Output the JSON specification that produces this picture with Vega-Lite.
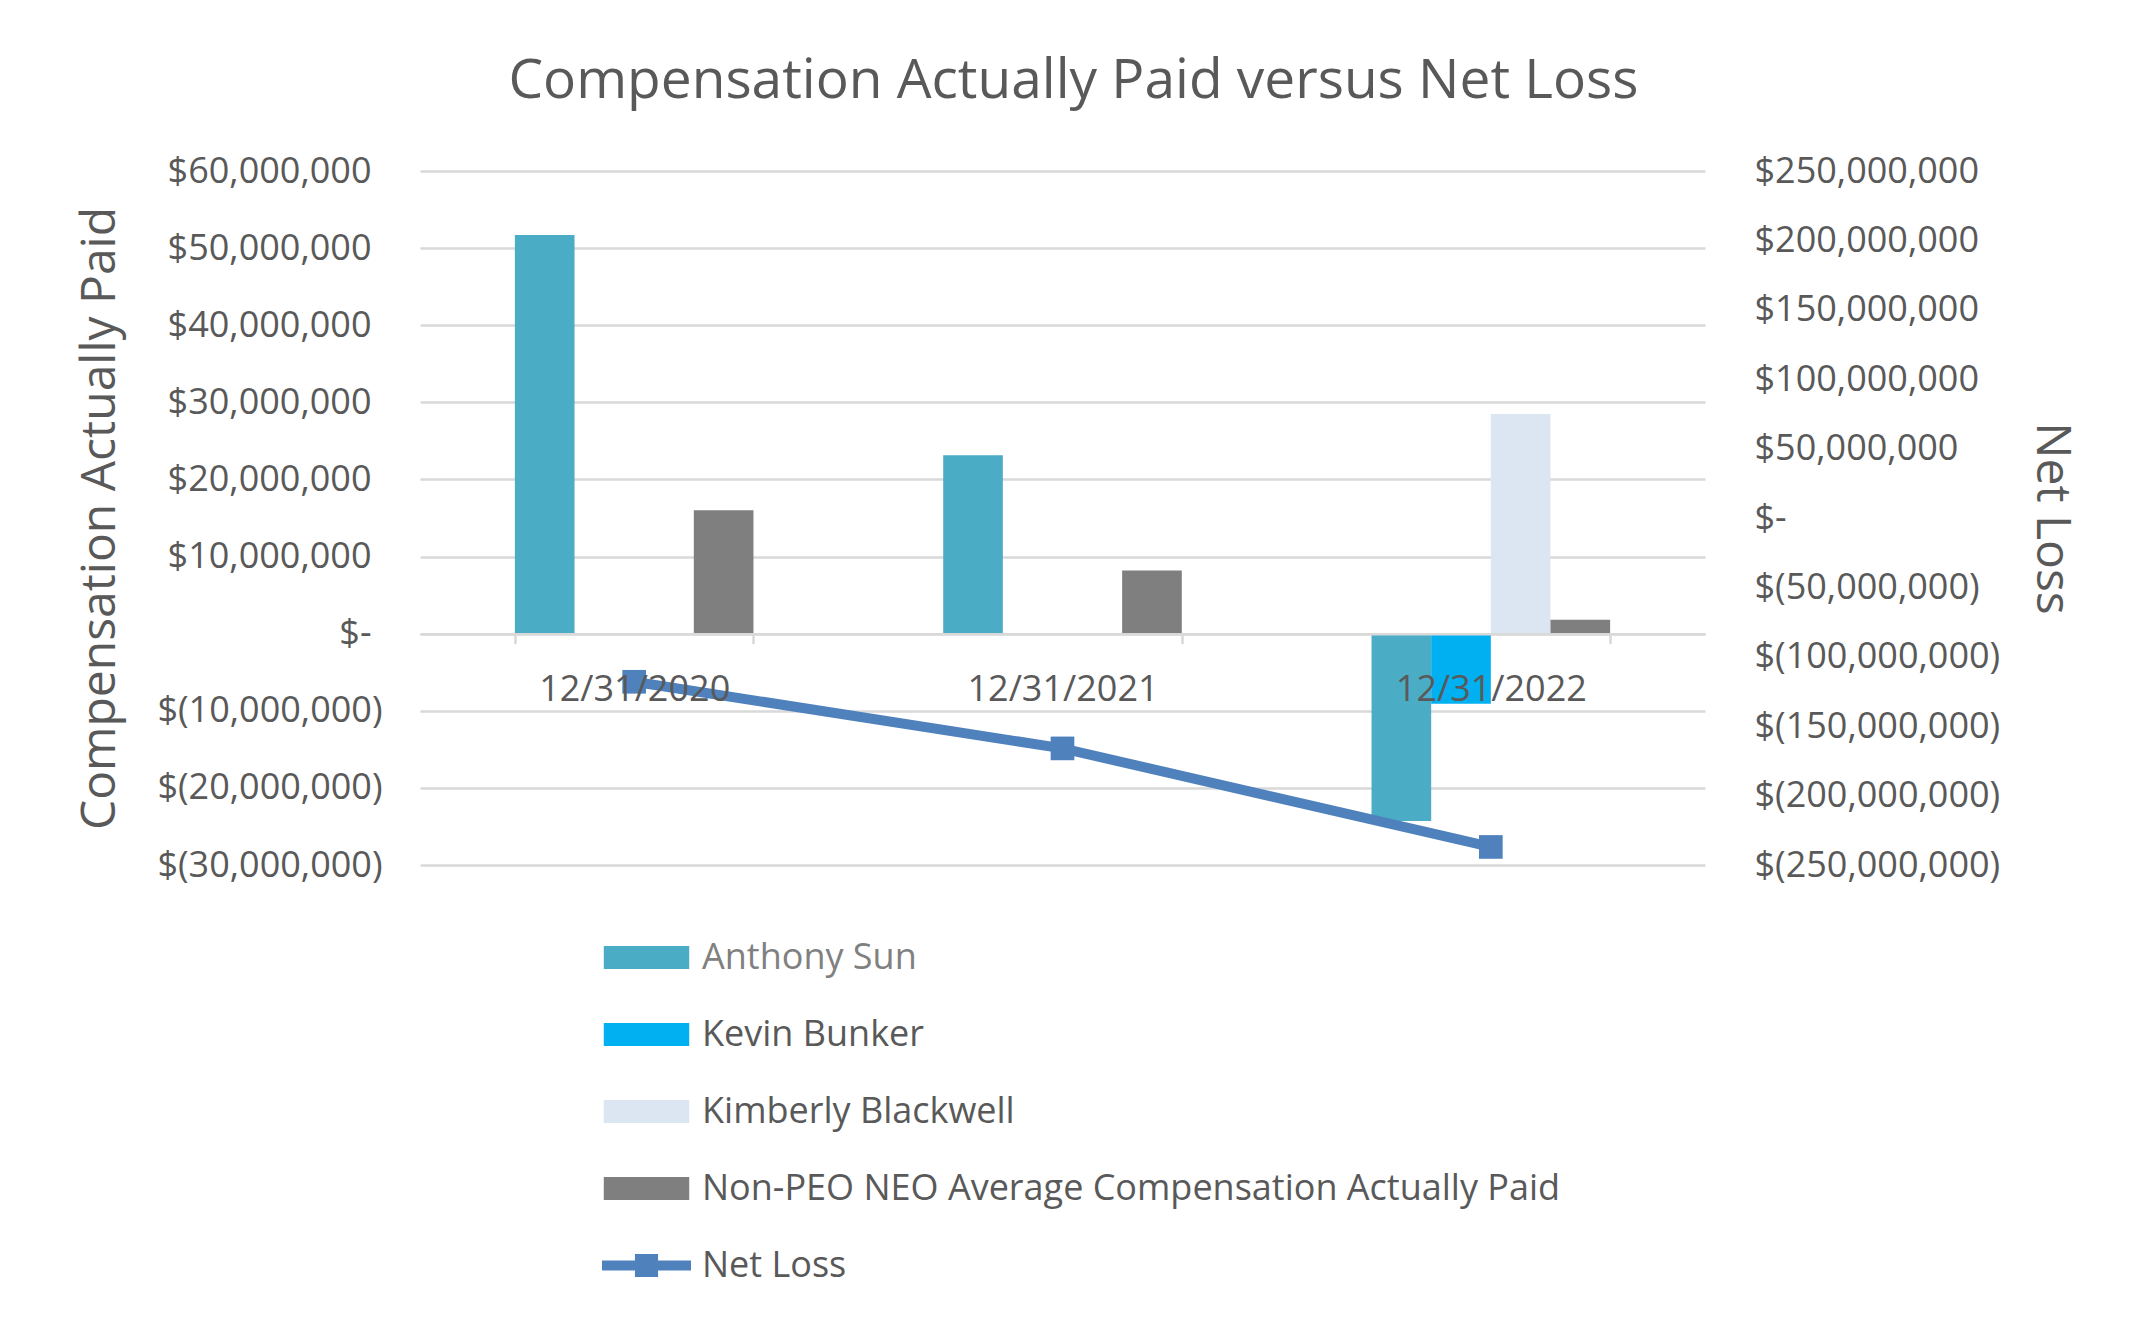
{
  "$schema": "https://vega.github.io/schema/vega-lite/v6.json",
  "width": 1285,
  "height": 694,
  "autosize": {"type": "none"},
  "padding": {"left": 420, "top": 171, "right": 442, "bottom": 460},
  "background": "white",
  "config": {
    "font": "Open Sans",
    "view": {"stroke": null}
  },
  "title": {
    "text": "Compensation Actually Paid versus Net Loss",
    "font": "Open Sans",
    "fontSize": 55,
    "fontWeight": "normal",
    "color": "#595959",
    "anchor": "middle",
    "baseline": "alphabetic",
    "offset": 0,
    "dx": 11
  },
  "datasets": {
    "comp": [
      {"date": "12/31/2020", "series": "Anthony Sun", "value": 51700000},
      {"date": "12/31/2020", "series": "Non-PEO NEO Average Compensation Actually Paid", "value": 16000000},
      {"date": "12/31/2021", "series": "Anthony Sun", "value": 23150000},
      {"date": "12/31/2021", "series": "Non-PEO NEO Average Compensation Actually Paid", "value": 8200000},
      {"date": "12/31/2022", "series": "Anthony Sun", "value": -24300000},
      {"date": "12/31/2022", "series": "Kevin Bunker", "value": -9100000},
      {"date": "12/31/2022", "series": "Kimberly Blackwell", "value": 28500000},
      {"date": "12/31/2022", "series": "Non-PEO NEO Average Compensation Actually Paid", "value": 1800000}
    ],
    "netloss": [
      {"date": "12/31/2020", "netLoss": -118000000},
      {"date": "12/31/2021", "netLoss": -166000000},
      {"date": "12/31/2022", "netLoss": -237000000}
    ]
  },
  "encoding": {
    "x": {
      "field": "date",
      "type": "nominal",
      "sort": ["12/31/2020", "12/31/2021", "12/31/2022"],
      "scale": {"paddingInner": 0.443, "paddingOuter": 0.2215},
      "axis": {
        "title": null,
        "orient": "bottom",
        "offset": -231.3,
        "domainColor": "#d9d9d9",
        "domainWidth": 2.5,
        "tickColor": "#d9d9d9",
        "tickWidth": 2.5,
        "tickSize": 10,
        "tickBand": "extent",
        "labelFont": "Open Sans",
        "labelFontSize": 36,
        "labelColor": "#595959",
        "labelPadding": 29,
        "labelLimit": 500,
        "labelAngle": 0,
        "grid": false,
        "zindex": 1
      }
    }
  },
  "layer": [
    {
      "data": {"name": "comp"},
      "mark": {"type": "bar"},
      "encoding": {
        "xOffset": {
          "field": "series",
          "type": "nominal",
          "scale": {
            "domain": ["Anthony Sun", "Kevin Bunker", "Kimberly Blackwell", "Non-PEO NEO Average Compensation Actually Paid"],
            "paddingInner": 0,
            "paddingOuter": 0
          }
        },
        "y": {
          "field": "value",
          "type": "quantitative",
          "scale": {"domain": [-30000000, 60000000], "nice": false, "zero": true},
          "axis": {
            "orient": "left",
            "values": [-30000000, -20000000, -10000000, 0, 10000000, 20000000, 30000000, 40000000, 50000000, 60000000],
            "labelExpr": "datum.value == 0 ? '$-' : (datum.value < 0 ? '$(' + format(-datum.value, ',') + ')' : '$' + format(datum.value, ','))",
            "labelFont": "Open Sans",
            "labelFontSize": 36,
            "labelColor": "#595959",
            "labelPadding": {"condition": {"test": "datum.value < 0", "value": 38}, "value": 49},
            "labelLimit": 500,
            "domain": false,
            "ticks": false,
            "grid": true,
            "gridColor": "#d9d9d9",
            "gridWidth": 2.5,
            "title": "Compensation Actually Paid",
            "titleFont": "Open Sans",
            "titleFontSize": 48,
            "titleFontWeight": "normal",
            "titleColor": "#595959",
            "titlePadding": 96,
            "titleLimit": 1000
          }
        },
        "color": {
          "field": "series",
          "type": "nominal",
          "scale": {
            "domain": ["Anthony Sun", "Kevin Bunker", "Kimberly Blackwell", "Non-PEO NEO Average Compensation Actually Paid", "Net Loss"],
            "range": ["#4bacc6", "#00b0f0", "#dce6f2", "#7f7f7f", "#4f81bd"]
          },
          "legend": {
            "title": null,
            "orient": "none",
            "legendX": 182,
            "legendY": 742,
            "direction": "vertical",
            "padding": 0,
            "symbolSize": 7921,
            "symbolStrokeWidth": 0,
            "labelFont": "Open Sans",
            "labelFontSize": 36,
            "labelColor": "#595959",
            "labelOffset": 11,
            "labelLimit": 1200,
            "rowPadding": 14,
            "encode": {
              "symbols": {
                "update": {
                  "shape": {"signal": "datum.value === 'Net Loss' ? 'M-1,-0.115H1V0.115H-1Z M-0.26,-0.26H0.26V0.26H-0.26Z' : 'M-0.96,-0.26H0.96V0.26H-0.96Z'"},
                  "strokeWidth": {"value": 0}
                }
              },
              "labels": {
                "update": {
                  "fill": {"signal": "datum.value === 'Anthony Sun' ? '#808080' : '#595959'"}
                }
              }
            }
          }
        }
      }
    },
    {
      "data": {"name": "netloss"},
      "mark": {
        "type": "line",
        "color": "#4f81bd",
        "strokeWidth": 10,
        "point": {"shape": "square", "size": 560, "filled": true, "color": "#4f81bd", "opacity": 1}
      },
      "encoding": {
        "y": {
          "field": "netLoss",
          "type": "quantitative",
          "scale": {"domain": [-250000000, 250000000], "nice": false},
          "axis": {
            "orient": "right",
            "values": [-250000000, -200000000, -150000000, -100000000, -50000000, 0, 50000000, 100000000, 150000000, 200000000, 250000000],
            "labelExpr": "datum.value == 0 ? '$-' : (datum.value < 0 ? '$(' + format(-datum.value, ',') + ')' : '$' + format(datum.value, ','))",
            "labelFont": "Open Sans",
            "labelFontSize": 36,
            "labelColor": "#595959",
            "labelPadding": 49,
            "labelLimit": 500,
            "domain": false,
            "ticks": false,
            "grid": false,
            "title": "Net Loss",
            "titleFont": "Open Sans",
            "titleFontSize": 48,
            "titleFontWeight": "normal",
            "titleColor": "#595959",
            "titlePadding": 121
          }
        }
      }
    }
  ],
  "resolve": {"scale": {"y": "independent"}}
}
